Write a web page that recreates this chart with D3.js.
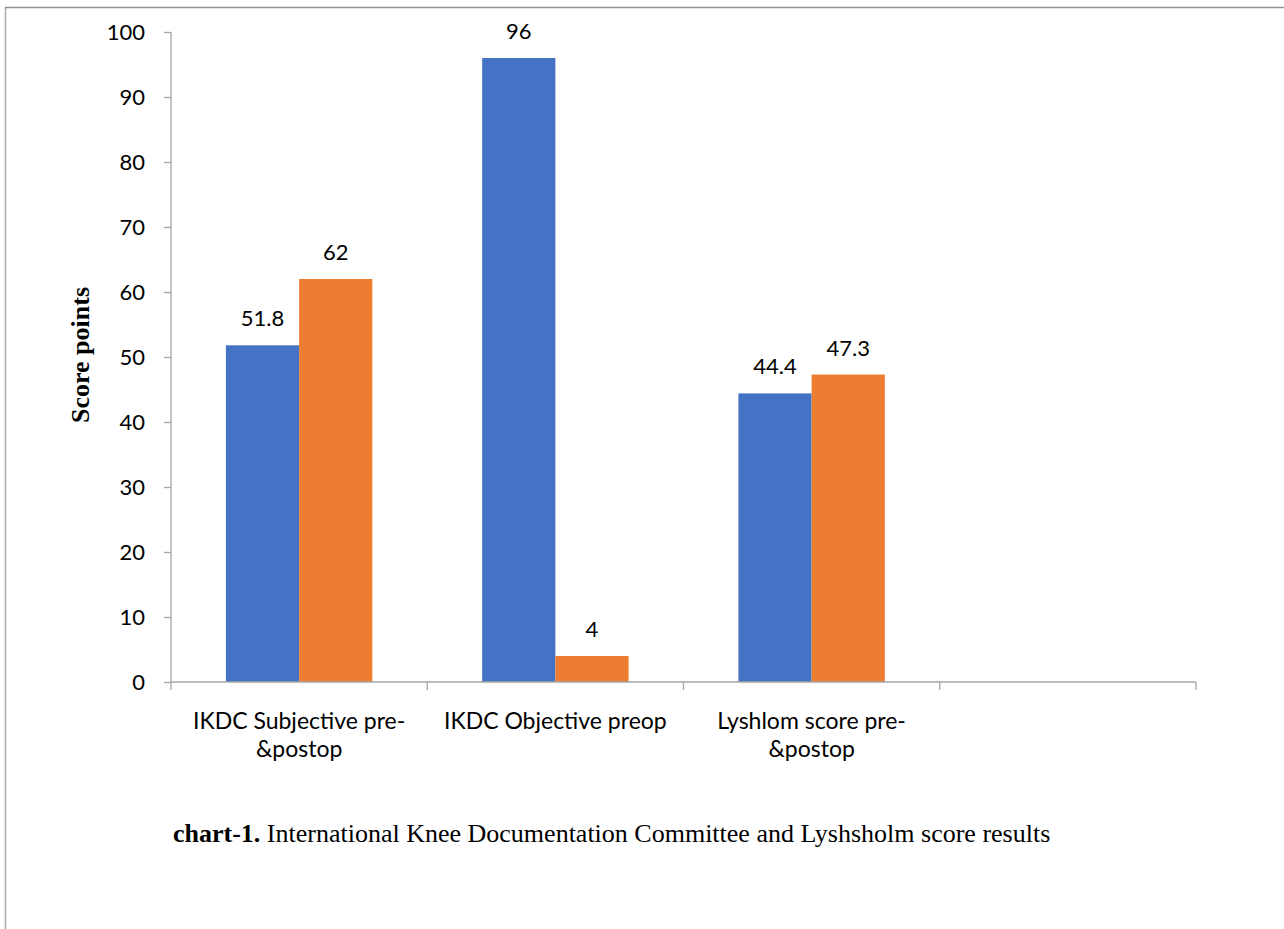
<!DOCTYPE html>
<html>
<head>
<meta charset="utf-8">
<script src="https://cdn.jsdelivr.net/npm/d3@7"></script>
<style>
  html, body { margin: 0; padding: 0; background: #fff; }
  svg { display: block; }
</style>
</head>
<body>
<svg id="chart" width="1284" height="929"></svg>
<script>
// Category labels (each entry is a list of lines) and series values
const categories = ["IKDC Subjective", "IKDC Objective", "Lyshlom score", ""];
const categoryLines = [
  ["IKDC Subjective pre-", "&postop"],
  ["IKDC Objective preop"],
  ["Lyshlom score pre-", "&postop"],
  []
];
const preValues = [51.8, 96, 44.4, null];
const postValues = [62, 4, 47.3, null];
const yTicks = [0, 10, 20, 30, 40, 50, 60, 70, 80, 90, 100];
const seriesColors = ["#4472C4", "#ED7D31"];

const svg = d3.select("#chart");
const W = 1284, H = 929;

// Outer frame (left and top edges visible)
svg.append("line").attr("x1", 5.5).attr("x2", 5.5).attr("y1", 7).attr("y2", H)
  .attr("stroke", "#a8a8a8").attr("stroke-width", 1.5);
svg.append("line").attr("x1", 5).attr("x2", W).attr("y1", 7.5).attr("y2", 7.5)
  .attr("stroke", "#8f8f8f").attr("stroke-width", 1.5);

const plot = { left: 171, right: 1196, top: 32, bottom: 682 };

const x = d3.scaleBand().domain(categories).range([plot.left, plot.right]).paddingInner(0).paddingOuter(0);
const y = d3.scaleLinear().domain([0, 100]).range([plot.bottom, plot.top]);

// Each bar is 1/3.5 of a category band (150% gap width)
const barW = x.bandwidth() / 3.5;
const sub = d3.scaleBand().domain([0, 1]).range([0, barW * 2]);

const axisColor = "#a6a6a6";
const sansFont = "Lato, 'Open Sans', sans-serif";

// Y axis
const yAxis = svg.append("g").attr("transform", `translate(${plot.left},0)`)
  .call(d3.axisLeft(y).tickValues(yTicks).tickSize(7).tickPadding(19).tickFormat(d3.format("d")));
yAxis.select(".domain").attr("stroke", axisColor).attr("stroke-width", 1.3).attr("d", `M0,${plot.top}V${plot.bottom}`);
yAxis.selectAll(".tick line").attr("stroke", axisColor).attr("stroke-width", 1.3);
yAxis.selectAll(".tick text").attr("fill", "#000").style("font-family", sansFont).style("font-size", "22px");

// Bars
const series = [preValues, postValues];
series.forEach((vals, si) => {
  svg.append("g").selectAll("rect")
    .data(categories.map((c, i) => ({ c, v: vals[i] })).filter(d => d.v != null))
    .join("rect")
    .attr("x", d => x(d.c) + x.bandwidth() / 2 - barW + sub(si))
    .attr("width", sub.bandwidth())
    .attr("y", d => y(d.v))
    .attr("height", d => y(0) - y(d.v))
    .attr("fill", seriesColors[si]);

  svg.append("g").selectAll("text")
    .data(categories.map((c, i) => ({ c, v: vals[i] })).filter(d => d.v != null))
    .join("text")
    .attr("x", d => x(d.c) + x.bandwidth() / 2 - barW + sub(si) + sub.bandwidth() / 2)
    .attr("y", d => y(d.v) - 19)
    .attr("text-anchor", "middle")
    .style("font-family", sansFont).style("font-size", "22px")
    .text(d => d3.format("")(d.v));
});

// X axis
const xAxis = svg.append("g").attr("transform", `translate(0,${plot.bottom})`);
xAxis.append("line").attr("x1", plot.left).attr("x2", plot.right).attr("y1", 0).attr("y2", 0)
  .attr("stroke", axisColor).attr("stroke-width", 1.3);
const bounds = categories.map(c => x(c)).concat([plot.right]);
xAxis.selectAll("line.tk").data(bounds).join("line").attr("class", "tk")
  .attr("x1", d => d).attr("x2", d => d).attr("y1", 0).attr("y2", 8)
  .attr("stroke", axisColor).attr("stroke-width", 1.3);

categories.forEach((c, i) => {
  const t = xAxis.append("text")
    .attr("x", x(c) + x.bandwidth() / 2)
    .attr("y", 47)
    .attr("text-anchor", "middle")
    .style("font-family", sansFont).style("font-size", "23px");
  categoryLines[i].forEach((line, li) => {
    t.append("tspan").attr("x", x(c) + x.bandwidth() / 2).attr("dy", li === 0 ? 0 : 28).text(line);
  });
});

// Y axis title
svg.append("text")
  .attr("transform", `translate(89,355) rotate(-90)`)
  .attr("text-anchor", "middle")
  .style("font-family", "'Liberation Serif', 'Times New Roman', serif")
  .style("font-weight", "bold").style("font-size", "26px")
  .text("Score points");

// Caption
const cap = svg.append("text").attr("x", 173).attr("y", 842)
  .style("font-family", "'Liberation Serif', 'Times New Roman', serif").style("font-size", "26px");
cap.append("tspan").style("font-weight", "bold").text("chart-1.");
cap.append("tspan").text(" International Knee Documentation Committee and Lyshsholm score results");
</script>
</body>
</html>
